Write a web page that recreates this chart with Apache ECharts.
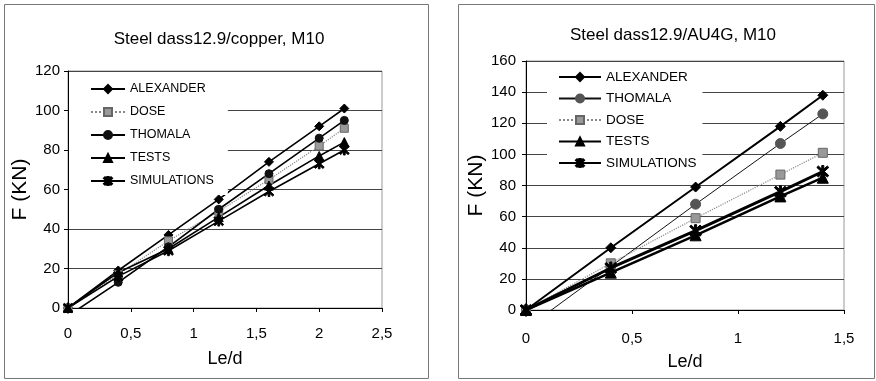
<!DOCTYPE html>
<html>
<head>
<meta charset="utf-8">
<script src="https://cdn.jsdelivr.net/npm/echarts@6/dist/echarts.min.js"></script>
<style>html,body{margin:0;padding:0;background:#fff;}#c{width:876px;height:381px;}</style>
</head>
<body>
<div id="c"></div>
<script>
// ---- Left chart: Steel class 12.9 / copper, M10 ----
const leftX = [0, 0.4, 0.8, 1.2, 1.6, 2.0, 2.2];
const leftAlexander = [0, 19, 37, 55, 74, 92, 101];
const leftDose = [0, 17, 34, 49, 65, 82, 91];
const leftThomala = [-4, 13, 31, 50, 68, 86, 95];
const leftTests = [0, 18, 30, 46, 62, 77, 84];
const leftSimulations = [0, 16, 29, 44, 59, 73, 80];
const leftNames = ['ALEXANDER', 'DOSE', 'THOMALA', 'TESTS', 'SIMULATIONS'];

// ---- Right chart: Steel class 12.9 / AU4G, M10 ----
const rightX = [0, 0.4, 0.8, 1.2, 1.4];
const rightAlexander = [0, 40, 79, 118, 138];
const rightThomala = [-12, 28, 68, 107, 126];
const rightDose = [0, 30, 59, 87, 101];
const rightTests = [0, 24, 48, 73, 85];
const rightSimulations = [0, 27, 51, 76, 89];
const rightNames = ['ALEXANDER', 'THOMALA', 'DOSE', 'TESTS', 'SIMULATIONS'];

const titles = ['Steel dass12.9/copper, M10', 'Steel dass12.9/AU4G, M10'];

const FONT = '"Liberation Sans", Arial, sans-serif';
const star = 'path://M-0.8,-5 L0.8,-5 L0.8,5 L-0.8,5 Z M-3.4,-4.6 L4.6,3.4 L3.4,4.6 L-4.6,-3.4 Z M3.4,-4.6 L4.6,-3.4 L-3.4,4.6 L-4.6,3.4 Z';

function pairs(xs, ys) { return xs.map((x, i) => [x, ys[i]]); }
const comma = v => String(v).replace('.', ',');

function mk(name, gi, xs, ys, sym, size, color, lw, ltype, symColor, z) {
  return {
    name: name, type: 'line', xAxisIndex: gi, yAxisIndex: gi,
    data: pairs(xs, ys), symbol: sym, symbolSize: size, clip: true,
    lineStyle: { color: color, width: lw, type: ltype },
    itemStyle: { color: symColor, borderColor: symColor === '#999' ? '#666' : symColor, borderWidth: 1 },
    emphasis: { disabled: true }, animation: false, z: z || 2
  };
}

const chart = echarts.init(document.getElementById('c'), null, { renderer: 'canvas' });

const yAxisCommon = {
  type: 'value', min: 0, interval: 20,
  axisLine: { show: true, lineStyle: { color: '#000', width: 1 } },
  axisTick: { show: true, length: 4, lineStyle: { color: '#000' } },
  splitLine: { show: true, lineStyle: { color: '#444', width: 1 } },
  nameLocation: 'middle', nameRotate: 90,
  nameTextStyle: { fontFamily: FONT, fontSize: 21, color: '#000' }
};
const xAxisCommon = {
  type: 'value', min: 0, interval: 0.5,
  axisLine: { show: true, onZero: false, lineStyle: { color: '#000', width: 1 } },
  axisTick: { show: true, length: 4, lineStyle: { color: '#000' } },
  splitLine: { show: false },
  nameLocation: 'middle',
  nameTextStyle: { fontFamily: FONT, fontSize: 18, color: '#000' }
};

const option = {
  backgroundColor: '#fff',
  animation: false,
  title: [
    { text: titles[0], left: 214, top: 26, textAlign: 'center',
      textStyle: { fontFamily: FONT, fontSize: 17, fontWeight: 'normal', color: '#000' } },
    { text: titles[1], left: 668, top: 22, textAlign: 'center',
      textStyle: { fontFamily: FONT, fontSize: 17, fontWeight: 'normal', color: '#000' } }
  ],
  graphic: [
    { type: 'rect', shape: { x: 4.5, y: 4.5, width: 424, height: 374 },
      style: { fill: null, stroke: '#777', lineWidth: 1 }, silent: true, z: -1 },
    { type: 'rect', shape: { x: 458.5, y: 4.5, width: 416, height: 374 },
      style: { fill: null, stroke: '#777', lineWidth: 1 }, silent: true, z: -1 }
  ],
  grid: [
    { left: 68, top: 71, width: 314, height: 237, show: true, borderColor: '#999', borderWidth: 1, backgroundColor: 'transparent' },
    { left: 526, top: 61, width: 318, height: 249, show: true, borderColor: '#999', borderWidth: 1, backgroundColor: 'transparent' }
  ],
  xAxis: [
    Object.assign({}, xAxisCommon, { gridIndex: 0, max: 2.5, name: 'Le/d', nameGap: 42,
      axisLabel: { margin: 18, fontFamily: FONT, fontSize: 15, color: '#000', formatter: comma } }),
    Object.assign({}, xAxisCommon, { gridIndex: 1, max: 1.5, name: 'Le/d', nameGap: 43,
      axisLabel: { margin: 21, fontFamily: FONT, fontSize: 15, color: '#000', formatter: comma } })
  ],
  yAxis: [
    Object.assign({}, yAxisCommon, { gridIndex: 0, max: 120, name: 'F (KN)', nameGap: 33,
      axisLabel: { margin: 8, fontFamily: FONT, fontSize: 15, color: '#000' } }),
    Object.assign({}, yAxisCommon, { gridIndex: 1, max: 160, name: 'F (KN)', nameGap: 37,
      axisLabel: { margin: 10, fontFamily: FONT, fontSize: 15, color: '#000' } })
  ],
  legend: [
    { data: leftNames.map(n => 'L:' + n), formatter: n => n.slice(2),
      orient: 'vertical', left: 69, top: 75, padding: [7, 14, 7, 21],
      backgroundColor: '#fff', itemWidth: 34, itemHeight: 10, itemGap: 9,
      selectedMode: false,
      textStyle: { fontFamily: FONT, fontSize: 12.5, color: '#000', lineHeight: 14 } },
    { data: rightNames.map(n => 'R:' + n), formatter: n => n.slice(2),
      orient: 'vertical', left: 547, top: 64, padding: [6, 6, 6, 11],
      backgroundColor: '#fff', itemWidth: 42, itemHeight: 10, itemGap: 7.5,
      selectedMode: false,
      textStyle: { fontFamily: FONT, fontSize: 13.5, color: '#000', lineHeight: 14 } }
  ],
  series: [
    mk('L:ALEXANDER', 0, leftX, leftAlexander, 'diamond', 9, '#000', 1.6, 'solid', '#000'),
    mk('L:DOSE', 0, leftX, leftDose, 'rect', 8, '#888', 1.2, 'dotted', '#999'),
    mk('L:THOMALA', 0, leftX, leftThomala, 'circle', 8, '#000', 1.6, 'solid', '#111'),
    mk('L:TESTS', 0, leftX, leftTests, 'triangle', 9, '#000', 1.6, 'solid', '#000'),
    mk('L:SIMULATIONS', 0, leftX, leftSimulations, star, 10, '#000', 1.6, 'solid', '#000'),
    mk('R:ALEXANDER', 1, rightX, rightAlexander, 'diamond', 10, '#000', 2, 'solid', '#000'),
    mk('R:THOMALA', 1, rightX, rightThomala, 'circle', 10, '#111', 1, 'solid', '#555'),
    mk('R:DOSE', 1, rightX, rightDose, 'rect', 9, '#888', 1.2, 'dotted', '#999'),
    mk('R:TESTS', 1, rightX, rightTests, 'triangle', 11, '#000', 2.5, 'solid', '#000'),
    mk('R:SIMULATIONS', 1, rightX, rightSimulations, star, 12, '#000', 3, 'solid', '#000', 3)
  ]
};
chart.setOption(option);
</script>
</body>
</html>
